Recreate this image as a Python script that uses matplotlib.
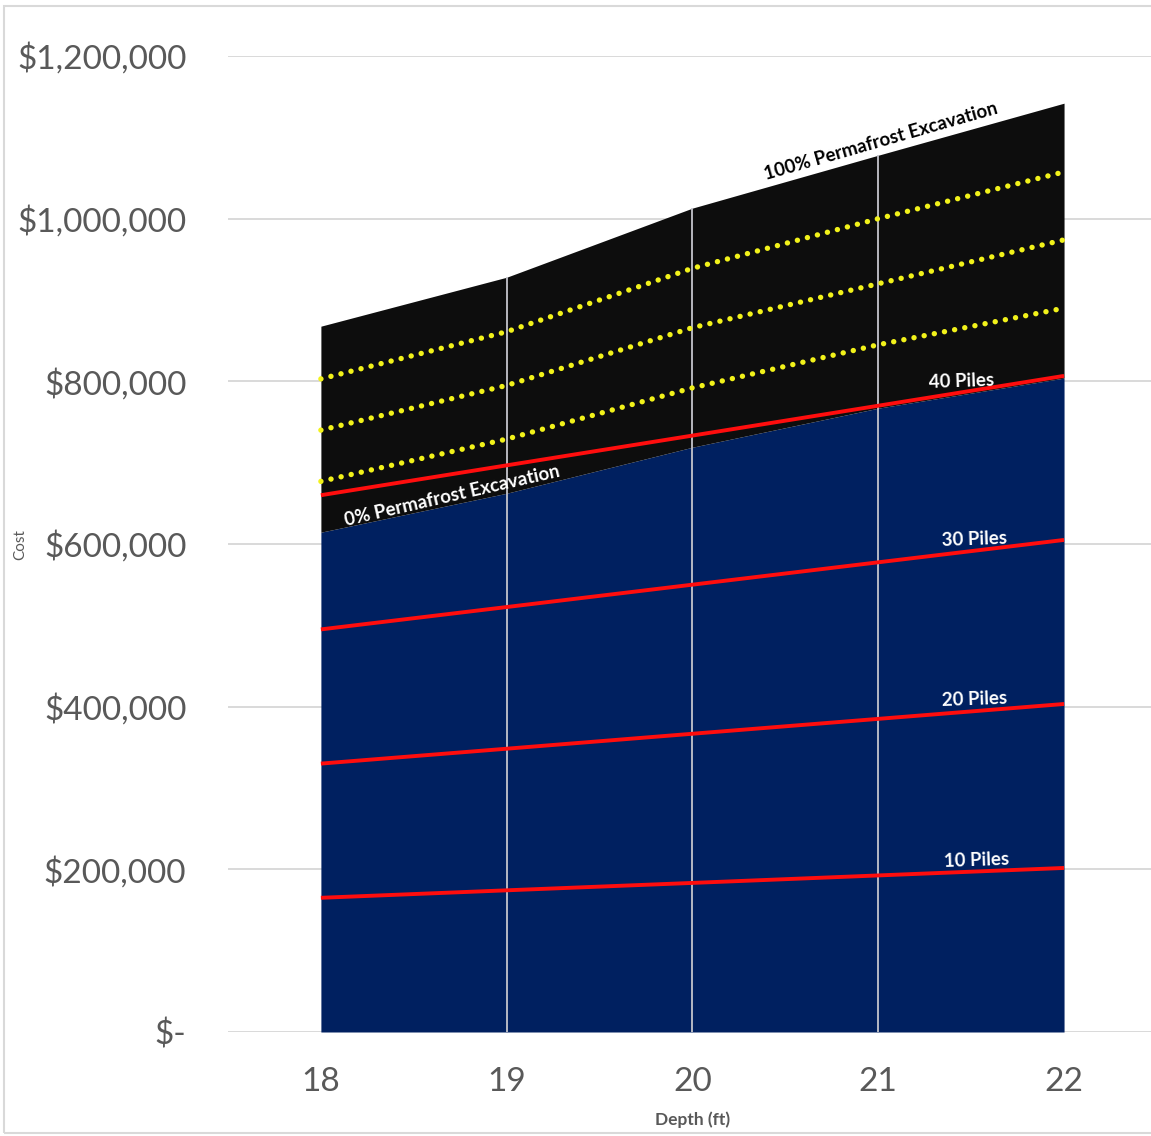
import numpy as np
import matplotlib
matplotlib.use("Agg")
import matplotlib.pyplot as plt
from matplotlib.ticker import FuncFormatter
from matplotlib.patches import Rectangle

plt.rcParams['font.family'] = ['Lato', 'DejaVu Sans']

# data
depth = [18, 19, 20, 21, 22]
excav_0 = [614500, 662400, 719000, 767000, 804000]      # 0% permafrost excavation
excav_100 = [867800, 928000, 1013000, 1078000, 1142000]  # 100% permafrost excavation
excav_25 = [677000, 729000, 792000, 845000, 890000]
excav_50 = [740000, 795000, 866000, 920000, 974000]
excav_75 = [803000, 861000, 939000, 1000000, 1057500]
piles_10 = [165000, 174200, 183300, 192500, 201700]
piles_20 = [330000, 348300, 366700, 385000, 403300]
piles_30 = [495000, 522500, 550000, 577500, 605000]
piles_40 = [660000, 696700, 733300, 770000, 806700]
pile_labels = ['10 Piles', '20 Piles', '30 Piles', '40 Piles']
y_ticks = [0, 200000, 400000, 600000, 800000, 1000000, 1200000]

W, H = 1151, 1136
fig = plt.figure(figsize=(W / 100, H / 100), dpi=100)
ax = fig.add_axes([228 / W, (H - 1032) / H, (W - 228) / W, (1032 - 56) / H])

# outer border
fig.patches.append(Rectangle((4 / W, (H - 1133) / H), 1.2, (1133 - 6) / H,
                             transform=fig.transFigure, fill=False,
                             edgecolor='#d9d9d9', linewidth=1.5))

grid_c = '#d0d0d0'
for v in y_ticks:
    ax.axhline(v, color=grid_c, linewidth=1.1, zorder=0)

ax.fill_between(depth, 0, excav_0, color='#002060', linewidth=0, zorder=1)
ax.fill_between(depth, excav_0, excav_100, color='#0d0d0d', linewidth=0, zorder=1)

# vertical gridlines only show inside the areas
ax.vlines(depth[1:-1], 0, excav_100[1:-1], color='#c4c4cc', linewidth=1.3, zorder=2)

for s in [excav_25, excav_50, excav_75]:
    ax.plot(depth, s, color='#f2f21a', linewidth=3.9, linestyle=(0, (0.01, 1.9)),
            dash_capstyle='round', zorder=3)

for s in [piles_10, piles_20, piles_30, piles_40]:
    ax.plot(depth, s, color='#ff0d0d', linewidth=2.8, zorder=4, solid_capstyle='butt')

# pile labels
pile_pos = [(21.53, 211400), (21.52, 409300), (21.52, 606000), (21.45, 800200)]
for lab, (x, y) in zip(pile_labels, pile_pos):
    ax.text(x, y, lab, color='white', fontsize=13.5, fontweight='bold',
            ha='center', va='center', rotation=2, zorder=5)

ax.text(21.016, 1095300, '100% Permafrost Excavation', color='black', fontsize=13.5,
        fontweight='bold', ha='center', va='center', rotation=16, zorder=5)
ax.text(18.705, 658900, '0% Permafrost Excavation', color='white', fontsize=13.5,
        fontweight='bold', ha='center', va='center', rotation=13, zorder=5)

ax.set_xlim(17.5, 22.468)
ax.set_ylim(0, 1200000)
ax.set_xticks(depth)
ax.set_yticks(y_ticks)
ax.yaxis.set_major_formatter(FuncFormatter(lambda v, p: '$-' if v == 0 else '${:,.0f}'.format(v)))
ax.tick_params(axis='both', length=0, labelsize=24, labelcolor='#595959')
ax.tick_params(axis='y', pad=30)
ax.tick_params(axis='x', pad=25)
for sp in ax.spines.values():
    sp.set_visible(False)

fig.text(693 / W, 1 - 1120 / H, 'Depth (ft)', color='#595959', fontsize=12.5,
         fontweight='bold', ha='center', va='center')
fig.text(20 / W, 1 - 545 / H, 'Cost', color='#595959', fontsize=11,
         rotation=90, ha='center', va='center')

fig.savefig('out.png', dpi=100)
